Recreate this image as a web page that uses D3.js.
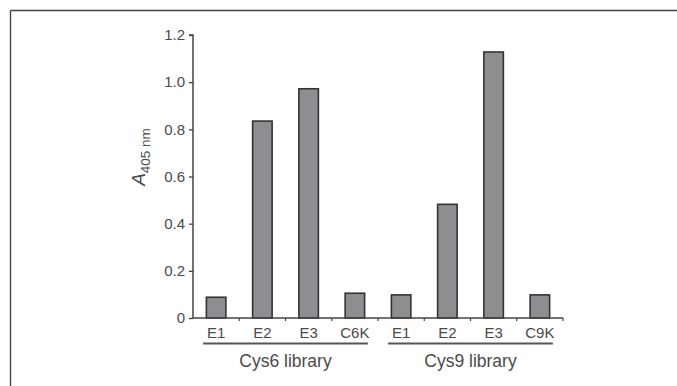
<!DOCTYPE html>
<html><head><meta charset="utf-8">
<script src="https://cdn.jsdelivr.net/npm/d3@7"></script>
<style>body{margin:0;background:#fff;}svg{display:block;}text{font-family:"Liberation Sans",Arial,sans-serif;}</style>
</head><body><div id="c"></div>
<script>
const categories = ["E1","E2","E3","C6K","E1","E2","E3","C9K"];
const values = [0.088,0.835,0.972,0.105,0.098,0.482,1.128,0.098];
const groups = ["Cys6 library","Cys9 library"];
const groupSpans = [[0,3],[4,7]];
const yTicks = [0,0.2,0.4,0.6,0.8,1.0,1.2];
const yTickLabels = ["0","0.2","0.4","0.6","0.8","1.0","1.2"];

const W=677,H=386;
const svg=d3.select("#c").append("svg").attr("width",W).attr("height",H);
// frame
svg.append("line").attr("x1",10.5).attr("x2",W).attr("y1",10.5).attr("y2",10.5).attr("stroke","#444").attr("stroke-width",1.4);
svg.append("line").attr("x1",10.5).attr("x2",10.5).attr("y1",10.5).attr("y2",H).attr("stroke","#444").attr("stroke-width",1.4);

const x0=193, x1=563, y0=318, y1=35;
const x=d3.scaleBand().domain(d3.range(categories.length)).range([x0,x1]);
const y=d3.scaleLinear().domain([0,1.2]).range([y0,y1]);
const col="#444";
const tcol="#4a4a4a";

// bars
const bw=19.5;
svg.selectAll("rect.bar").data(values).enter().append("rect")
  .attr("x",(d,i)=>x(i)+x.bandwidth()/2-bw/2)
  .attr("y",d=>y(d)).attr("width",bw).attr("height",d=>y0-y(d))
  .attr("fill","#8e8e90").attr("stroke","#333").attr("stroke-width",1.6);

// y axis
const ya=svg.append("g").attr("transform",`translate(${x0},0)`)
  .call(d3.axisLeft(y).tickValues(yTicks).tickFormat((d,i)=>yTickLabels[i]).tickSize(4).tickPadding(4));
ya.select(".domain").attr("stroke",col).attr("stroke-width",1.5).attr("d",`M-4,${y1}H0V${y0}`);
ya.selectAll(".tick line").attr("stroke",col).attr("stroke-width",1.3);
ya.selectAll(".tick text").attr("fill",tcol).attr("font-size",15);

// x axis
const xa=svg.append("g").attr("transform",`translate(0,${y0})`);
xa.append("line").attr("x1",x0).attr("x2",x1).attr("y1",0).attr("y2",0).attr("stroke",col).attr("stroke-width",1.5);
xa.selectAll("line.t").data(d3.range(1,categories.length+1)).enter().append("line")
  .attr("x1",i=>i<categories.length?x(i):x1).attr("x2",i=>i<categories.length?x(i):x1)
  .attr("y1",0).attr("y2",3).attr("stroke",col).attr("stroke-width",1.2);
xa.selectAll("text.c").data(categories).enter().append("text")
  .attr("x",(d,i)=>x(i)+x.bandwidth()/2).attr("y",19.5)
  .attr("text-anchor","middle").attr("font-size",15).attr("fill",tcol).text(d=>d);

// group lines
groupSpans.forEach((s,g)=>{
  const a=x(s[0])+x.bandwidth()/2-13, b=x(s[1])+x.bandwidth()/2+13;
  svg.append("line").attr("x1",a).attr("x2",b).attr("y1",343.5).attr("y2",343.5).attr("stroke","#555").attr("stroke-width",2);
  svg.append("text").attr("x",(a+b)/2).attr("y",366.5).attr("text-anchor","middle")
    .attr("font-size",17.5).attr("fill",tcol).text(groups[g]);
});

// y label
const yl=svg.append("text").attr("transform","translate(145,157) rotate(-90)").attr("text-anchor","middle").attr("fill",tcol);
yl.append("tspan").attr("font-style","italic").attr("font-size",19).text("A");
yl.append("tspan").attr("font-size",13.5).attr("dy",5).text("405 nm");
</script></body></html>
